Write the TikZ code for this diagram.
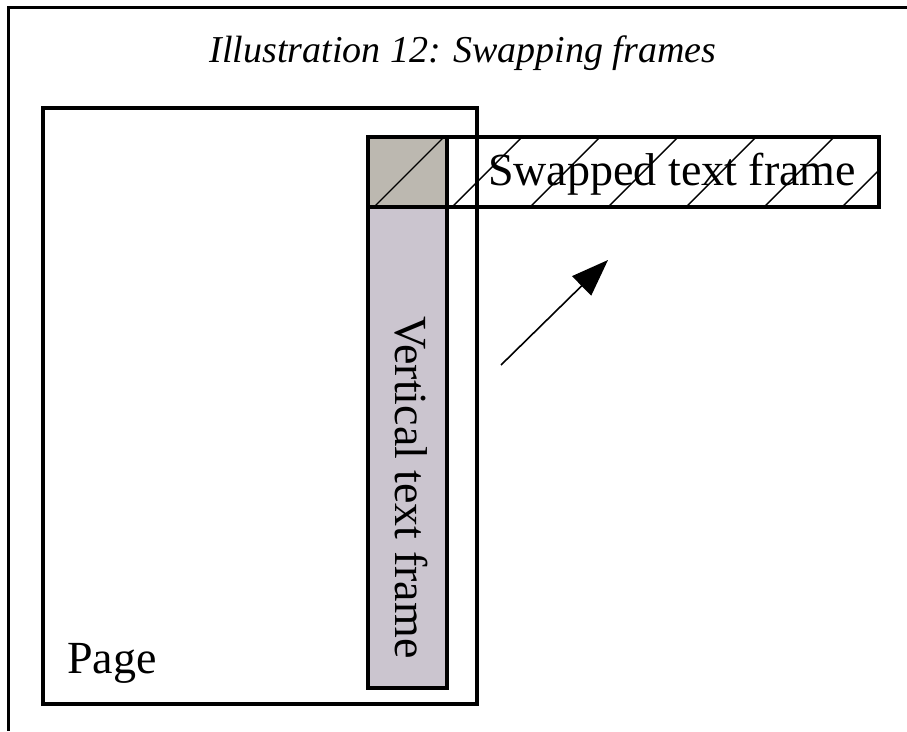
\documentclass[tikz,border=0pt]{standalone}
\usepackage{fontspec}
\setmainfont{Liberation Serif}
\usetikzlibrary{arrows.meta}
\definecolor{vfill}{RGB}{203,197,207}
\definecolor{vtop}{RGB}{188,184,176}
\begin{document}
\begin{tikzpicture}[x=1pt,y=-1pt,
  boxnode/.style={draw, line width=3.5pt, inner sep=0pt, outer sep=0pt, anchor=north west},
  hatch/.style={line width=1.4pt},
  txt/.style={font=\fontsize{46}{50}\selectfont, inner sep=0pt},
  arrowline/.style={line width=1.6pt, -{Triangle[length=37pt,width=27pt]}}]
\useasboundingbox (0,0) rectangle (907,731);
\fill[white] (0,0) rectangle (907,731);
% outer frame (top and left only)
\draw[line width=3pt] (907,7) -- (8,7) -- (8,731);
% title
\node[font=\itshape\fontsize{38}{40}\selectfont, anchor=base, inner sep=0pt] (title) at (463,62) {Illustration 12: Swapping frames};
% vertical text frame fill
\fill[vfill] (368,137) rectangle (447,688);
\fill[vtop] (368,137) rectangle (447,207);
% hatching of the swapped frame
\begin{scope}
  \clip (368,137) rectangle (879,207);
  \foreach \k in {0,...,6} {
    \draw[hatch] ({374+78*\k},207) -- ({444+78*\k},137);
  }
\end{scope}
% frames
\node[boxnode, minimum width=434pt, minimum height=596pt] (page) at (43,108) {};
\node[boxnode, minimum width=79pt, minimum height=551pt] (vframe) at (368,137) {};
\node[boxnode, minimum width=511pt, minimum height=70pt] (sframe) at (368,137) {};
% texts
\node[txt, anchor=base west] (stext) at (488,185) {Swapped text frame};
\node[txt, anchor=base west, rotate=-90] (vtext) at (395,316) {Vertical text frame};
\node[txt, anchor=base west] (ptext) at (67,673) {Page};
% arrow
\coordinate (a0) at (501,365);
\coordinate (a1) at (608,260);
\draw[arrowline] (a0) -- (a1);
\end{tikzpicture}
\end{document}
